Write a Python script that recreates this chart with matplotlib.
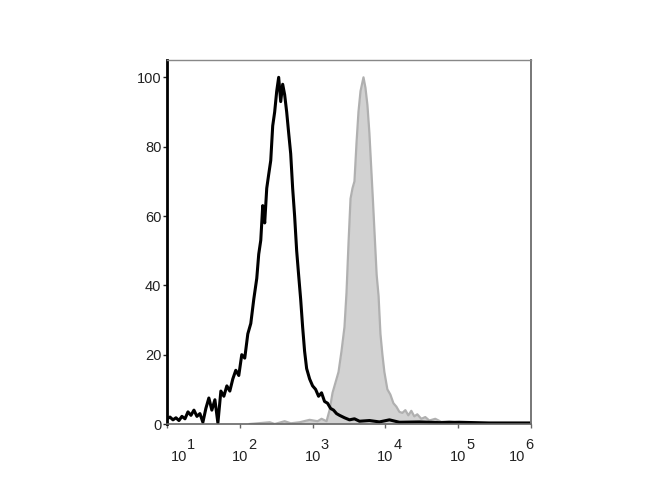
import numpy as np
import matplotlib
matplotlib.use("Agg")
import matplotlib.pyplot as plt

plt.rcParams['font.family'] = ['Liberation Sans', 'DejaVu Sans']

######## histogram data (log10 of fluorescence, % of max)
black_log = [1.000, 1.041, 1.082, 1.123, 1.164, 1.205, 1.247, 1.288, 1.329, 1.370,
             1.411, 1.452, 1.493, 1.534, 1.575, 1.616, 1.658, 1.699, 1.740, 1.781,
             1.822, 1.863, 1.904, 1.945, 1.986, 2.027, 2.068, 2.110, 2.151, 2.192,
             2.233, 2.260, 2.288, 2.315, 2.342, 2.370, 2.397, 2.425, 2.452, 2.479,
             2.507, 2.534, 2.562, 2.589, 2.616, 2.644, 2.671, 2.699, 2.726, 2.753,
             2.781, 2.808, 2.836, 2.863, 2.890, 2.918, 2.959, 3.000, 3.041, 3.082,
             3.123, 3.164, 3.205, 3.247, 3.288, 3.329, 3.370, 3.438, 3.507, 3.575,
             3.644, 3.781, 3.918, 4.055, 4.192, 4.466, 4.740, 5.014, 5.425, 6.000]
black_pct = [1.5, 2.0, 1.2, 1.8, 1.0, 2.2, 1.5, 3.5, 2.5, 4.0,
             2.2, 3.0, 0.5, 4.5, 7.5, 4.0, 7.0, 0.3, 9.5, 8.0,
             11.0, 9.5, 13.0, 15.5, 14.0, 20.0, 19.0, 26.0, 29.0, 36.0,
             42.0, 49.0, 53.0, 63.0, 58.0, 68.0, 72.0, 76.0, 86.0, 90.0,
             96.0, 100.0, 93.0, 98.0, 95.0, 90.0, 84.0, 78.0, 68.0, 60.0,
             50.0, 43.0, 36.0, 28.0, 21.0, 16.0, 13.0, 11.0, 10.0, 8.0,
             9.0, 6.5, 6.0, 4.5, 4.0, 3.0, 2.5, 1.8, 1.2, 1.5,
             0.8, 1.0, 0.6, 1.2, 0.5, 0.6, 0.4, 0.5, 0.3, 0.3]

gray_log = [2.137, 2.411, 2.480, 2.616, 2.700, 2.822, 2.959, 3.068, 3.123, 3.192,
            3.233, 3.274, 3.315, 3.356, 3.397, 3.438, 3.466, 3.493, 3.521, 3.548,
            3.575, 3.603, 3.630, 3.658, 3.699, 3.726, 3.753, 3.780, 3.805, 3.830,
            3.856, 3.880, 3.906, 3.932, 3.959, 3.986, 4.027, 4.068, 4.110, 4.151,
            4.192, 4.233, 4.274, 4.315, 4.356, 4.397, 4.438, 4.493, 4.548, 4.603,
            4.685, 4.767, 4.877, 5.014, 5.288, 6.000]
gray_pct = [0.0, 0.5, 0.0, 0.8, 0.2, 0.5, 1.2, 0.8, 1.5, 0.8,
            4.0, 9.0, 12.0, 15.0, 21.0, 28.0, 38.0, 52.0, 65.0, 68.0,
            70.0, 81.0, 90.0, 96.0, 100.0, 97.0, 92.0, 84.0, 74.0, 64.0,
            53.0, 43.0, 37.0, 26.0, 20.0, 15.0, 10.0, 8.5, 6.0, 5.0,
            3.5, 3.2, 4.0, 2.5, 3.8, 2.2, 2.8, 1.5, 2.0, 1.0,
            1.5, 0.6, 0.8, 0.3, 0.2, 0.1]

decades = [1, 2, 3, 4, 5, 6]
label_shift = [12, 0, 0, 0, 0, -14]   # px, first/last labels pushed inward
y_ticks = [0, 20, 40, 60, 80, 100]

black_x = 10 ** np.array(black_log)
gray_x = 10 ** np.array(gray_log)

fig = plt.figure(figsize=(6.7, 5.0), dpi=100)
ax = fig.add_axes([167/670, (500-424)/500, (531-167)/670, (424-60)/500])

ax.fill_between(gray_x, gray_pct, 0, color='#d2d2d2', linewidth=0)
ax.plot(gray_x, gray_pct, color='#b0b0b0', linewidth=1.6)
ax.plot(black_x, black_pct, color='black', linewidth=2.2)

ax.set_xscale('log')
ax.set_xlim(10, 1e6)
ax.set_ylim(0, 105)

ax.set_yticks(y_ticks)
ax.set_yticklabels([str(v) for v in y_ticks], fontsize=10.5)
ax.tick_params(axis='y', direction='out', length=3, width=1, pad=1, colors='#222222')

ax.set_xticks([10 ** d for d in decades])
ax.set_xticklabels([])
ax.minorticks_off()
ax.tick_params(axis='x', direction='out', length=3, width=1, color='#666666')

# decade labels: "10" with a full size raised exponent
for d, sh in zip(decades, label_shift):
    off = sh * 0.72
    ax.annotate('10', xy=(10 ** d, 0), xycoords=('data', 'axes fraction'),
                xytext=(off, -18.5), textcoords='offset points',
                ha='center', va='top', fontsize=10.5, color='#222222')
    ax.annotate(str(d), xy=(10 ** d, 0), xycoords=('data', 'axes fraction'),
                xytext=(off + 5.8, -10), textcoords='offset points',
                ha='left', va='top', fontsize=10.5, color='#222222')

ax.spines['left'].set_color('black')
ax.spines['left'].set_linewidth(2.0)
ax.spines['bottom'].set_color('#666666')
ax.spines['bottom'].set_linewidth(1.2)
ax.spines['top'].set_color('#888888')
ax.spines['top'].set_linewidth(1.0)
ax.spines['right'].set_color('#777777')
ax.spines['right'].set_linewidth(1.4)

fig.savefig('out.png', dpi=100)
